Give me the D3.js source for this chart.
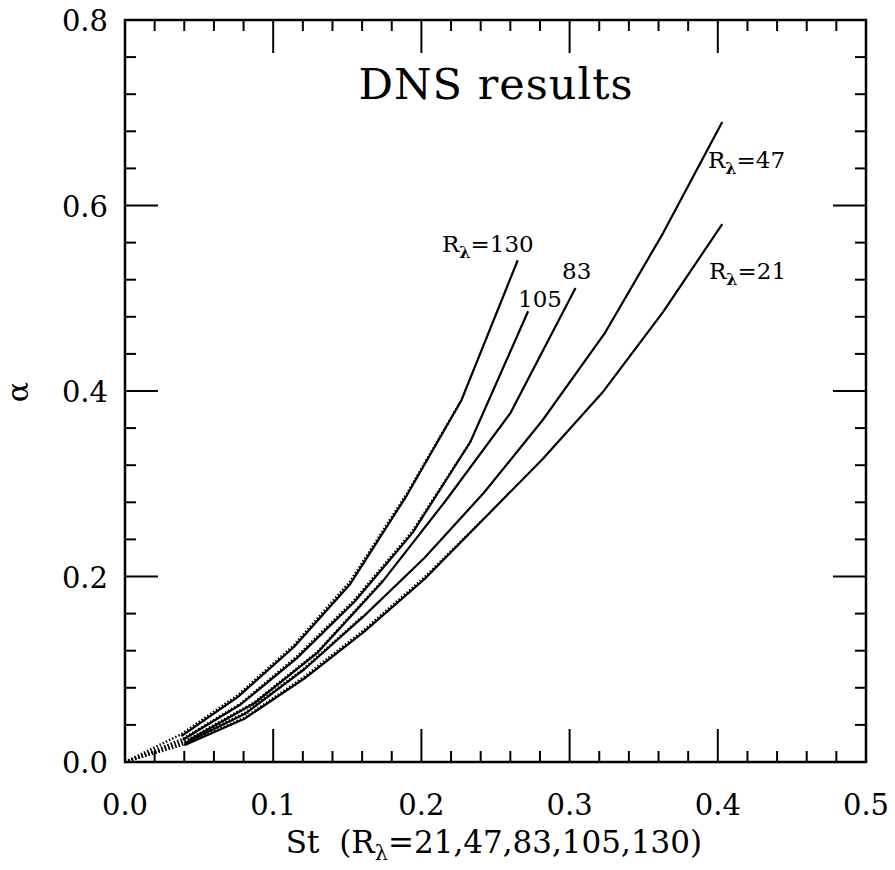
<!DOCTYPE html>
<meta charset="utf-8">
<style>
    html, body { margin: 0; padding: 0; background: #fff; }
    text { font-family: "DejaVu Serif", serif; fill: #000; }
</style>
<body>
<svg id="chart" width="895" height="870"></svg>
<script src="https://cdn.jsdelivr.net/npm/d3@7/dist/d3.min.js"></script>
<script>
  // DNS results: alpha vs St for five Reynolds numbers
  var st21  = [0.040, 0.081, 0.121, 0.161, 0.202, 0.242, 0.282, 0.322, 0.363, 0.403];
  var a21   = [0.018, 0.047, 0.090, 0.140, 0.197, 0.262, 0.327, 0.398, 0.485, 0.580];
  var st47  = [0.040, 0.081, 0.121, 0.161, 0.202, 0.242, 0.282, 0.324, 0.363, 0.403];
  var a47   = [0.020, 0.052, 0.100, 0.157, 0.220, 0.290, 0.369, 0.463, 0.570, 0.690];
  var st83  = [0.0435, 0.087, 0.130, 0.174, 0.217, 0.260, 0.304];
  var a83   = [0.024, 0.063, 0.118, 0.195, 0.283, 0.376, 0.511];
  var st105 = [0.039, 0.078, 0.116, 0.155, 0.194, 0.233, 0.272];
  var a105  = [0.024, 0.062, 0.112, 0.173, 0.247, 0.345, 0.486];
  var st130 = [0.038, 0.076, 0.114, 0.152, 0.190, 0.227, 0.265];
  var a130  = [0.028, 0.070, 0.124, 0.192, 0.287, 0.390, 0.541];

  // dotted fits (start at the origin)
  var fitSt21  = [0, 0.040, 0.081, 0.121, 0.161, 0.202, 0.242];
  var fitA21   = [0, 0.019, 0.048, 0.092, 0.142, 0.199, 0.262];
  var fitSt47  = [0, 0.040, 0.081, 0.121, 0.161];
  var fitA47   = [0, 0.021, 0.053, 0.101, 0.158];
  var fitSt83  = [0, 0.0435, 0.087, 0.130, 0.174];
  var fitA83   = [0, 0.025, 0.064, 0.119, 0.196];
  var fitSt105 = [0, 0.039, 0.078, 0.116, 0.155, 0.194, 0.233];
  var fitA105  = [0, 0.025, 0.063, 0.114, 0.175, 0.249, 0.345];
  var fitSt130 = [0, 0.038, 0.076, 0.114, 0.152, 0.190, 0.227];
  var fitA130  = [0, 0.030, 0.072, 0.126, 0.195, 0.289, 0.390];

  var xTicks = [0, 0.1, 0.2, 0.3, 0.4, 0.5];
  var yTicks = [0, 0.2, 0.4, 0.6, 0.8];

  var mLeft = 125, mTop = 20, width = 741, height = 742;
  var svg = d3.select("#chart");
  var g = svg.append("g").attr("transform", "translate(" + mLeft + "," + mTop + ")");

  var x = d3.scaleLinear().domain([0, 0.5]).range([0, width]);
  var y = d3.scaleLinear().domain([0, 0.8]).range([height, 0]);

  function pairs(xs, ys) {
    return xs.map(function (v, i) { return [v, ys[i]]; });
  }

  var line = d3.line()
    .x(function (d) { return x(d[0]); })
    .y(function (d) { return y(d[1]); });

  var curves = [[st21, a21], [st47, a47], [st83, a83], [st105, a105], [st130, a130]];
  var fits = [[fitSt21, fitA21], [fitSt47, fitA47], [fitSt83, fitA83], [fitSt105, fitA105], [fitSt130, fitA130]];

  fits.forEach(function (f) {
    g.append("path")
      .attr("d", line(pairs(f[0], f[1])))
      .attr("fill", "none")
      .attr("stroke", "#000")
      .attr("stroke-width", 2.4)
      .attr("stroke-dasharray", "1.5,2");
  });

  curves.forEach(function (c) {
    g.append("path")
      .attr("d", line(pairs(c[0], c[1])))
      .attr("fill", "none")
      .attr("stroke", "#000")
      .attr("stroke-width", 2.2)
      .attr("stroke-linejoin", "round");
  });

  // ticks on all four sides
  var xMinor = d3.range(0, 0.5001, 0.02);
  var yMinor = d3.range(0, 0.8001, 0.04);
  function isMajor(v, step) { return Math.abs(v / step - Math.round(v / step)) < 1e-6; }

  xMinor.forEach(function (v) {
    var len = isMajor(v, 0.1) ? 33 : 11;
    g.append("line").attr("x1", x(v)).attr("x2", x(v)).attr("y1", height).attr("y2", height - len)
      .attr("stroke", "#000").attr("stroke-width", 2);
    g.append("line").attr("x1", x(v)).attr("x2", x(v)).attr("y1", 0).attr("y2", len)
      .attr("stroke", "#000").attr("stroke-width", 2);
  });
  yMinor.forEach(function (v) {
    var len = isMajor(v, 0.2) ? 33 : 11;
    g.append("line").attr("x1", 0).attr("x2", len).attr("y1", y(v)).attr("y2", y(v))
      .attr("stroke", "#000").attr("stroke-width", 2);
    g.append("line").attr("x1", width).attr("x2", width - len).attr("y1", y(v)).attr("y2", y(v))
      .attr("stroke", "#000").attr("stroke-width", 2);
  });

  g.append("rect")
    .attr("x", 0).attr("y", 0).attr("width", width).attr("height", height)
    .attr("fill", "none").attr("stroke", "#000").attr("stroke-width", 2.5);

  // tick labels
  g.selectAll(".xl").data(xTicks).enter().append("text")
    .attr("x", function (d) { return x(d); })
    .attr("y", height + 53)
    .attr("text-anchor", "middle")
    .attr("font-size", 29)
    .text(function (d) { return d3.format(".1f")(d); });

  g.selectAll(".yl").data(yTicks).enter().append("text")
    .attr("x", -17)
    .attr("y", function (d) { return y(d) + 11; })
    .attr("text-anchor", "end")
    .attr("font-size", 29)
    .text(function (d) { return d3.format(".1f")(d); });

  // axis titles
  var xt = svg.append("text")
    .attr("x", 494).attr("y", 853)
    .attr("text-anchor", "middle")
    .attr("font-size", 31)
    .style("white-space", "pre");
  xt.append("tspan").text("St  (R");
  xt.append("tspan").attr("font-size", 21).attr("dy", 7).text("λ");
  xt.append("tspan").attr("dy", -7).text("=21,47,83,105,130)");

  svg.append("text")
    .attr("transform", "translate(28,392) rotate(-90)")
    .attr("text-anchor", "middle")
    .attr("font-size", 30)
    .text("α");

  svg.append("text")
    .attr("x", 496).attr("y", 99)
    .attr("text-anchor", "middle")
    .attr("font-size", 43)
    .attr("letter-spacing", 1)
    .text("DNS results");

  // curve labels
  function rLabel(px, py, value) {
    var t = svg.append("text").attr("x", px).attr("y", py).attr("font-size", 23);
    t.append("tspan").text("R");
    t.append("tspan").attr("font-size", 16).attr("font-weight", "bold").attr("dy", 6).text("λ");
    t.append("tspan").attr("dy", -6).text("=" + value);
  }
  rLabel(442, 252, "130");
  rLabel(708, 168, "47");
  rLabel(709, 279, "21");
  svg.append("text").attr("x", 518).attr("y", 307).attr("font-size", 23).text("105");
  svg.append("text").attr("x", 562).attr("y", 279).attr("font-size", 23).text("83");
</script>
</body>
